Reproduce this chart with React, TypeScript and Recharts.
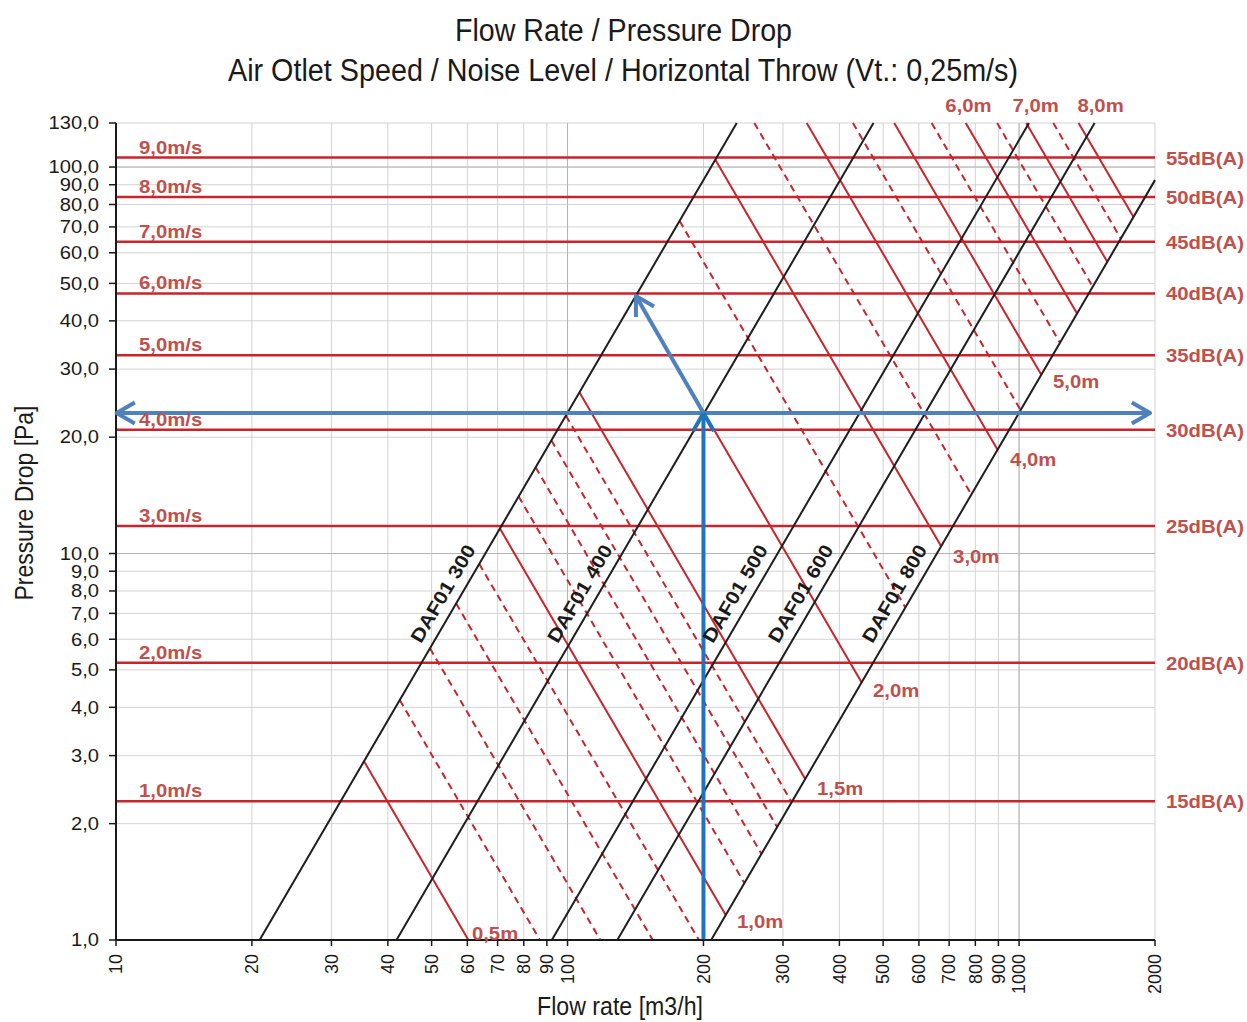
import React from 'react';
import {
  ComposedChart, Line, Scatter, XAxis, YAxis, CartesianGrid, ReferenceLine,
} from 'recharts';

const flowTicks = [10, 20, 30, 40, 50, 60, 70, 80, 90, 100, 200, 300, 400, 500, 600, 700, 800, 900, 1000, 2000];
const pressureTicks = [1, 2, 3, 4, 5, 6, 7, 8, 9, 10, 20, 30, 40, 50, 60, 70, 80, 90, 100, 130];

// pressure at which each outlet speed / noise level line sits
const speedLevels = [2.285, 5.22, 11.78, 20.9, 32.6, 47.1, 64.1, 83.6, 105.8];
const speedLabels = ['1,0m/s', '2,0m/s', '3,0m/s', '4,0m/s', '5,0m/s', '6,0m/s', '7,0m/s', '8,0m/s', '9,0m/s'];
const noiseLabels = ['15dB(A)', '20dB(A)', '25dB(A)', '30dB(A)', '35dB(A)', '40dB(A)', '45dB(A)', '50dB(A)', '55dB(A)'];

const dafNames = ['DAF01 300', 'DAF01 400', 'DAF01 500', 'DAF01 600', 'DAF01 800'];
const dafLines = [
  [{ q: 20.8, p: 1 }, { q: 237, p: 130 }],
  [{ q: 41.8, p: 1 }, { q: 476, p: 130 }],
  [{ q: 92.3, p: 1 }, { q: 1052, p: 130 }],
  [{ q: 128.9, p: 1 }, { q: 1470, p: 130 }],
  [{ q: 208, p: 1 }, { q: 2000, p: 92.5 }],
];
const dafLabelAnchors = [
  { q: 57, p: 7.5 }, { q: 114.5, p: 7.5 }, { q: 252.8, p: 7.5 }, { q: 353, p: 7.5 }, { q: 569.6, p: 7.5 },
];

// horizontal throw lines: [flow start, pressure start, flow end, pressure end]
const throwSolid = [
  [35.42, 2.9, 60.32, 1],
  [70.84, 11.6, 224.0, 1.16],
  [106.3, 26.1, 336.0, 2.61],
  [141.7, 46.4, 448.1, 4.64],
  [212.5, 104.4, 672.1, 10.44],
  [338.6, 130, 896.1, 18.56],
  [529.0, 130, 1120.1, 29.0],
  [761.8, 130, 1344.1, 41.76],
  [1036.9, 130, 1568.2, 56.84],
  [1354.4, 130, 1792.2, 74.24],
];
const throwDashed = [
  [42.51, 4.176, 86.86, 1],
  [49.59, 5.684, 118.2, 1],
  [56.67, 7.424, 154.4, 1],
  [63.76, 9.396, 195.4, 1],
  [77.93, 14.04, 246.4, 1.404],
  [85.01, 16.7, 268.8, 1.67],
  [92.1, 19.6, 291.2, 1.96],
  [99.18, 22.74, 313.6, 2.274],
  [177.1, 72.5, 560.1, 7.25],
  [259.2, 130, 784.1, 14.21],
  [428.5, 130, 1008.1, 23.49],
  [640.2, 130, 1232.1, 35.09],
  [894.1, 130, 1456.1, 49.01],
  [1190.4, 130, 1680.2, 65.25],
];
const throwLabels = [
  { q: 61.4, p: 1.0, text: '0,5m' },
  { q: 237.3, p: 1.077, text: '1,0m' },
  { q: 356.9, p: 2.377, text: '1,5m' },
  { q: 474.9, p: 4.26, text: '2,0m' },
  { q: 714.3, p: 9.45, text: '3,0m' },
  { q: 955.2, p: 16.83, text: '4,0m' },
  { q: 1189, p: 26.77, text: '5,0m' },
];
const throwTopLabels = [
  { q: 772.7, p: 130, text: '6,0m' },
  { q: 1088, p: 130, text: '7,0m' },
  { q: 1515, p: 130, text: '8,0m' },
];

// selection example
const pickFlow = 200;
const pickPressure = 23.1;
const pickReach = { q: 141.7, p: 46.4 };

const RED = '#c9242c';
const LABEL_RED = '#c0504d';
const SANS = 'Liberation Sans, Arial, Helvetica, sans-serif';
const NARROW = 'Liberation Sans Narrow, Arial Narrow, Liberation Sans, Arial, sans-serif';

const speedData = speedLevels.map((p, i) => ({ q: 10, p, text: speedLabels[i] }));
const noiseData = speedLevels.map((p, i) => ({ q: 2000, p, text: noiseLabels[i] }));
const dafLabelData = dafLabelAnchors.map((a, i) => ({ ...a, text: dafNames[i] }));
const toPoints = (s: number[]) => [{ q: s[0], p: s[1] }, { q: s[2], p: s[3] }];

const FlowTick = ({ x, y, payload }: any) => (
  <text x={x} y={y} transform={`rotate(-90 ${x} ${y})`} textAnchor="end" dy="0.35em"
    fontSize={18} fill="#1a1a1a" fontFamily={SANS}>
    {payload.value}
  </text>
);

const PressureTick = ({ x, y, payload }: any) => (
  <text transform={`translate(${x} ${y}) scale(1.12 1)`} textAnchor="end" dy="0.35em"
    fontSize={18} fill="#1a1a1a" fontFamily={SANS}>
    {Number(payload.value).toFixed(1).replace('.', ',')}
  </text>
);

const redText = (tx: number, ty: number, text: string, anchor = 'start') => (
  <text transform={`translate(${tx} ${ty}) scale(1.13 1)`} textAnchor={anchor}
    fontSize={18} fontWeight="bold" fill={LABEL_RED} fontFamily={SANS}>
    {text}
  </text>
);

const speedShape = (props: any) => redText(props.cx + 23, props.cy - 4, props.payload.text);
const noiseShape = (props: any) => redText(props.cx + 11, props.cy + 7, props.payload.text);
const throwShape = (props: any) => redText(props.cx, props.cy, props.payload.text);
const throwTopShape = (props: any) => redText(props.cx, props.cy - 11, props.payload.text, 'middle');

const dafShape = (props: any) => (
  <text transform={`translate(${props.cx} ${props.cy}) rotate(-59.7) scale(1.13 1)`} y={-10}
    textAnchor="middle" fontSize={19} fontWeight="bold" fill="#1a1a1a" fontFamily={SANS}>
    {props.payload.text}
  </text>
);

function head(fx: number, fy: number, tx: number, ty: number, color: string) {
  const a = Math.atan2(ty - fy, tx - fx);
  const len = 21;
  const s = 0.52;
  const pts = `${tx - len * Math.cos(a - s)},${ty - len * Math.sin(a - s)} ${tx},${ty} ${tx - len * Math.cos(a + s)},${ty - len * Math.sin(a + s)}`;
  return <polyline points={pts} fill="none" stroke={color} strokeWidth={4} strokeLinejoin="round" />;
}

const arrow = (color: string, both: boolean) => (props: any) => {
  const { x1, y1, x2, y2 } = props;
  return (
    <g>
      <line x1={x1} y1={y1} x2={x2} y2={y2} stroke={color} strokeWidth={4} />
      {head(x1, y1, x2, y2, color)}
      {both && head(x2, y2, x1, y1, color)}
    </g>
  );
};

export default function App() {
  return (
    <div style={{ position: 'absolute', left: 0, top: 0, width: 1247, height: 1022, background: '#fff' }}>
      <ComposedChart width={1247} height={1022} margin={{ top: 123, right: 92, bottom: 32, left: 56 }}>
        <CartesianGrid stroke="#d3d3d3" strokeWidth={1} />
        <XAxis
          type="number" dataKey="q" scale="log" domain={[10, 2000]} ticks={flowTicks} interval={0}
          height={50} tick={<FlowTick />} tickSize={6} tickMargin={8}
          axisLine={{ stroke: '#1a1a1a', strokeWidth: 2 }} tickLine={{ stroke: '#1a1a1a', strokeWidth: 1.5 }}
        />
        <YAxis
          type="number" dataKey="p" scale="log" domain={[1, 130]} ticks={pressureTicks} interval={0}
          width={60} tick={<PressureTick />} tickSize={7} tickMargin={10}
          axisLine={{ stroke: '#1a1a1a', strokeWidth: 2 }} tickLine={{ stroke: '#1a1a1a', strokeWidth: 1.5 }}
        />
        <ReferenceLine x={100} stroke="#b3b3b3" />
        <ReferenceLine x={1000} stroke="#b3b3b3" />
        <ReferenceLine y={10} stroke="#b3b3b3" />
        <ReferenceLine y={100} stroke="#b3b3b3" />

        {speedLevels.map((p, i) => (
          <Line key={`lvl${i}`} data={[{ q: 10, p }, { q: 2000, p }]} dataKey="p" stroke={RED}
            strokeWidth={2.5} dot={false} activeDot={false} isAnimationActive={false} />
        ))}
        {throwDashed.map((s, i) => (
          <Line key={`td${i}`} data={toPoints(s)} dataKey="p" stroke={RED} strokeWidth={2}
            strokeDasharray="7 5" dot={false} activeDot={false} isAnimationActive={false} />
        ))}
        {throwSolid.map((s, i) => (
          <Line key={`ts${i}`} data={toPoints(s)} dataKey="p" stroke={RED} strokeWidth={2}
            dot={false} activeDot={false} isAnimationActive={false} />
        ))}
        {dafLines.map((d, i) => (
          <Line key={`daf${i}`} data={d} dataKey="p" stroke="#1e1e1e" strokeWidth={2}
            dot={false} activeDot={false} isAnimationActive={false} />
        ))}

        <ReferenceLine segment={[{ x: 10.03, y: pickPressure }, { x: 1950, y: pickPressure }]}
          shape={arrow('#4f81bd', true)} zIndex={550} />
        <ReferenceLine segment={[{ x: pickFlow, y: 1.005 }, { x: pickFlow, y: pickPressure }]}
          shape={arrow('#1f74bc', false)} zIndex={550} />
        <ReferenceLine segment={[{ x: pickFlow, y: pickPressure }, { x: pickReach.q, y: pickReach.p }]}
          shape={arrow('#4f81bd', false)} zIndex={550} />

        <Scatter data={speedData} dataKey="p" shape={speedShape} isAnimationActive={false} />
        <Scatter data={noiseData} dataKey="p" shape={noiseShape} isAnimationActive={false} />
        <Scatter data={throwLabels} dataKey="p" shape={throwShape} isAnimationActive={false} />
        <Scatter data={throwTopLabels} dataKey="p" shape={throwTopShape} isAnimationActive={false} />
        <Scatter data={dafLabelData} dataKey="p" shape={dafShape} isAnimationActive={false} />
      </ComposedChart>

      <svg width={1247} height={1022} style={{ position: 'absolute', left: 0, top: 0, pointerEvents: 'none' }}>
        <g fontFamily={NARROW} fill="#1a1a1a" textAnchor="middle">
          <text x={623.5} y={41} fontSize={31} textLength={337} lengthAdjust="spacingAndGlyphs">
            Flow Rate / Pressure Drop
          </text>
          <text x={623} y={81} fontSize={31} textLength={790} lengthAdjust="spacingAndGlyphs">
            Air Otlet Speed / Noise Level / Horizontal Throw (Vt.: 0,25m/s)
          </text>
          <text x={620} y={1015} fontSize={25} textLength={166} lengthAdjust="spacingAndGlyphs">
            Flow rate [m3/h]
          </text>
          <text x={33} y={503} transform="rotate(-90 33 503)" fontSize={25} textLength={195}
            lengthAdjust="spacingAndGlyphs">
            Pressure Drop [Pa]
          </text>
        </g>
      </svg>
    </div>
  );
}
